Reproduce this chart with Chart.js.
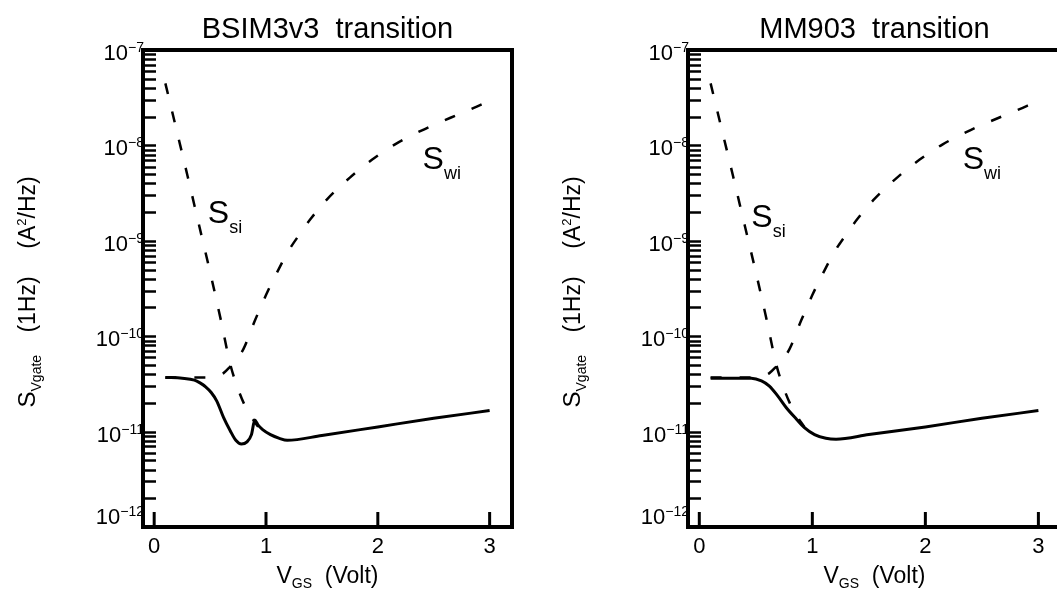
<!DOCTYPE html>
<html>
<head>
<meta charset="utf-8">
<script src="https://cdn.jsdelivr.net/npm/chart.js@4"></script>
<style>
  body { margin: 0; width: 1057px; height: 596px; overflow: hidden; background: #fff; }
  .panel { position: absolute; top: 0; height: 596px; }
</style>
</head>
<body>
<div class="panel" style="left:0;width:530px"><canvas id="left" width="530" height="596"></canvas></div>
<div class="panel" style="left:530px;width:545px"><canvas id="right" width="545" height="596"></canvas></div>
<script>
// S_si : strong inversion part (dashed, falling)
const siV = [0.10, 0.20, 0.30, 0.40, 0.50, 0.60, 0.68, 0.75, 0.80, 0.86, 0.93];
const siS = [4.47e-8, 1.45e-8, 4.7e-9, 1.48e-9, 4.7e-10, 1.41e-10, 5.1e-11, 2.8e-11, 2.0e-11, 1.48e-11, 1.12e-11];

// S_wi : weak inversion part (dashed, rising)
const wiV = [0.10, 0.30, 0.47, 0.55, 0.62, 0.68, 0.74, 0.80, 0.90, 1.00, 1.10, 1.20, 1.30, 1.40, 1.55, 1.75, 1.95, 2.15, 2.40, 2.65, 2.90, 3.00];
const wiS = [3.7e-11, 3.7e-11, 3.7e-11, 3.8e-11, 4.1e-11, 4.8e-11, 5.75e-11, 7.4e-11, 1.45e-10, 2.7e-10, 4.7e-10, 7.8e-10, 1.17e-9, 1.7e-9, 2.75e-9, 4.6e-9, 7.1e-9, 1.02e-8, 1.45e-8, 1.95e-8, 2.6e-8, 2.95e-8];

// total S_Vgate, BSIM3v3
const bsimV = [0.10, 0.25, 0.36, 0.41, 0.46, 0.51, 0.56, 0.62, 0.68, 0.73, 0.78, 0.83, 0.87, 0.90, 0.93, 0.97, 1.04, 1.12, 1.19, 1.50, 2.00, 2.50, 3.00];
const bsimS = [3.7e-11, 3.63e-11, 3.47e-11, 3.24e-11, 2.95e-11, 2.57e-11, 2.09e-11, 1.41e-11, 1.02e-11, 8.1e-12, 7.4e-12, 7.8e-12, 9.3e-12, 1.32e-11, 1.17e-11, 1.05e-11, 9.3e-12, 8.5e-12, 8.1e-12, 9.1e-12, 1.12e-11, 1.38e-11, 1.66e-11];

// total S_Vgate, MM903
const mmV = [0.10, 0.30, 0.46, 0.55, 0.62, 0.69, 0.77, 0.86, 0.93, 1.02, 1.12, 1.21, 1.50, 2.00, 2.50, 3.00];
const mmS = [3.63e-11, 3.63e-11, 3.63e-11, 3.4e-11, 3.0e-11, 2.4e-11, 1.78e-11, 1.35e-11, 1.1e-11, 9.3e-12, 8.5e-12, 8.3e-12, 9.3e-12, 1.12e-11, 1.38e-11, 1.66e-11];

const xTicks = [0, 1, 2, 3];
const yDecades = [-12, -11, -10, -9, -8, -7];

const FONT = '"Liberation Sans", "DejaVu Sans", sans-serif';

const pts = (xs, ys) => xs.map((x, i) => ({ x, y: ys[i] }));

function drawParts(ctx, parts, x, y) {
  let cx = x;
  parts.forEach((p) => {
    ctx.font = `${p.size}px ${FONT}`;
    ctx.fillText(p.t, cx, y + (p.dy || 0));
    cx += ctx.measureText(p.t).width;
  });
  return cx;
}

function partsWidth(ctx, parts) {
  let w = 0;
  parts.forEach((p) => {
    ctx.font = `${p.size}px ${FONT}`;
    w += ctx.measureText(p.t).width;
  });
  return w;
}

const framePlugin = {
  id: "frame",
  afterDraw(chart, args, opts) {
    const { ctx, chartArea: a, scales } = chart;
    const { x, y } = scales;
    ctx.save();
    ctx.fillStyle = "#000";
    ctx.strokeStyle = "#000";
    ctx.textAlign = "left";
    ctx.textBaseline = "alphabetic";

    // frame
    ctx.lineWidth = 4;
    ctx.strokeRect(a.left, a.top, a.right - a.left, a.bottom - a.top);

    // y ticks, pointing inward
    ctx.lineWidth = 2.5;
    yDecades.forEach((n) => {
      for (let k = 1; k <= 9; k++) {
        const v = k * Math.pow(10, n);
        if (v > 1.0001e-7) break;
        const py = Math.round(y.getPixelForValue(v)) + 0.5;
        ctx.beginPath();
        ctx.moveTo(a.left, py);
        ctx.lineTo(a.left + 13, py);
        ctx.stroke();
      }
    });

    // x ticks
    ctx.lineWidth = 3;
    xTicks.forEach((t) => {
      const px = x.getPixelForValue(t);
      ctx.beginPath();
      ctx.moveTo(px, a.bottom);
      ctx.lineTo(px, a.bottom - 15);
      ctx.stroke();
      ctx.font = `22px ${FONT}`;
      ctx.textAlign = "center";
      ctx.fillText(String(t), px, a.bottom + 26);
      ctx.textAlign = "left";
    });

    // y tick labels 10^n
    yDecades.forEach((n) => {
      const py = y.getPixelForValue(Math.pow(10, n));
      const base = Math.min(py + 10, a.bottom - 3);
      const parts = [
        { t: "10", size: 22 },
        { t: "\u2212" + Math.abs(n), size: 14, dy: -8 },
      ];
      const w = partsWidth(ctx, parts);
      drawParts(ctx, parts, a.left + 1 - w, base);
    });

    // title
    ctx.font = `29px ${FONT}`;
    ctx.textAlign = "center";
    ctx.fillText(opts.title, (a.left + a.right) / 2, 38);
    ctx.textAlign = "left";

    // x axis title
    const xt = [
      { t: "V", size: 23 },
      { t: "GS", size: 14, dy: 5 },
      { t: "  (Volt)", size: 23 },
    ];
    drawParts(ctx, xt, (a.left + a.right) / 2 - partsWidth(ctx, xt) / 2, a.bottom + 56);

    // y axis title, rotated
    const mid = (a.top + a.bottom) / 2;
    ctx.save();
    ctx.translate(a.left - 108, 0);
    ctx.rotate(-Math.PI / 2);
    drawParts(ctx, [{ t: "S", size: 24 }, { t: "Vgate", size: 14, dy: 6 }], -(mid + 119), 0);
    const g2 = [{ t: "(1Hz)", size: 23 }];
    drawParts(ctx, g2, -(mid + 16) - partsWidth(ctx, g2) / 2, 0);
    const g3 = [{ t: "(A", size: 23 }, { t: "2", size: 13, dy: -9 }, { t: "/Hz)", size: 23 }];
    drawParts(ctx, g3, -(mid - 76) - partsWidth(ctx, g3) / 2, 0);
    ctx.restore();

    // curve labels
    opts.marks.forEach((m) => {
      const px = x.getPixelForValue(m.x);
      const py = y.getPixelForValue(m.y);
      drawParts(ctx, [{ t: "S", size: 32 }, { t: m.sub, size: 18, dy: 10 }], px, py);
    });

    ctx.restore();
  },
};

function makeChart(id, title, totV, totS, marks, padLeft, padRight) {
  return new Chart(document.getElementById(id), {
    type: "line",
    plugins: [framePlugin],
    data: {
      datasets: [
        {
          data: pts(siV, siS),
          borderColor: "#000",
          borderWidth: 2.5,
          borderDash: [11, 18],
          pointRadius: 0,
          cubicInterpolationMode: "monotone",
        },
        {
          data: pts(wiV, wiS),
          borderColor: "#000",
          borderWidth: 2.5,
          borderDash: [11, 18],
          pointRadius: 0,
          cubicInterpolationMode: "monotone",
        },
        {
          data: pts(totV, totS),
          borderColor: "#000",
          borderWidth: 3,
          pointRadius: 0,
          cubicInterpolationMode: "monotone",
        },
      ],
    },
    options: {
      responsive: false,
      animation: false,
      devicePixelRatio: 1,
      layout: { padding: { left: padLeft, right: padRight, top: 50, bottom: 69 } },
      plugins: {
        legend: { display: false },
        tooltip: { enabled: false },
        frame: { title, marks },
      },
      scales: {
        x: { type: "linear", min: -0.1, max: 3.2, display: false },
        y: { type: "logarithmic", min: 1e-12, max: 1e-7, display: false },
      },
    },
  });
}

makeChart("left", "BSIM3v3  transition", bsimV, bsimS,
  [{ x: 0.48, y: 1.55e-9, sub: "si" }, { x: 2.40, y: 5.7e-9, sub: "wi" }], 143, 18);
makeChart("right", "MM903  transition", mmV, mmS,
  [{ x: 0.46, y: 1.4e-9, sub: "si" }, { x: 2.33, y: 5.7e-9, sub: "wi" }], 158, 14);
</script>
</body>
</html>
